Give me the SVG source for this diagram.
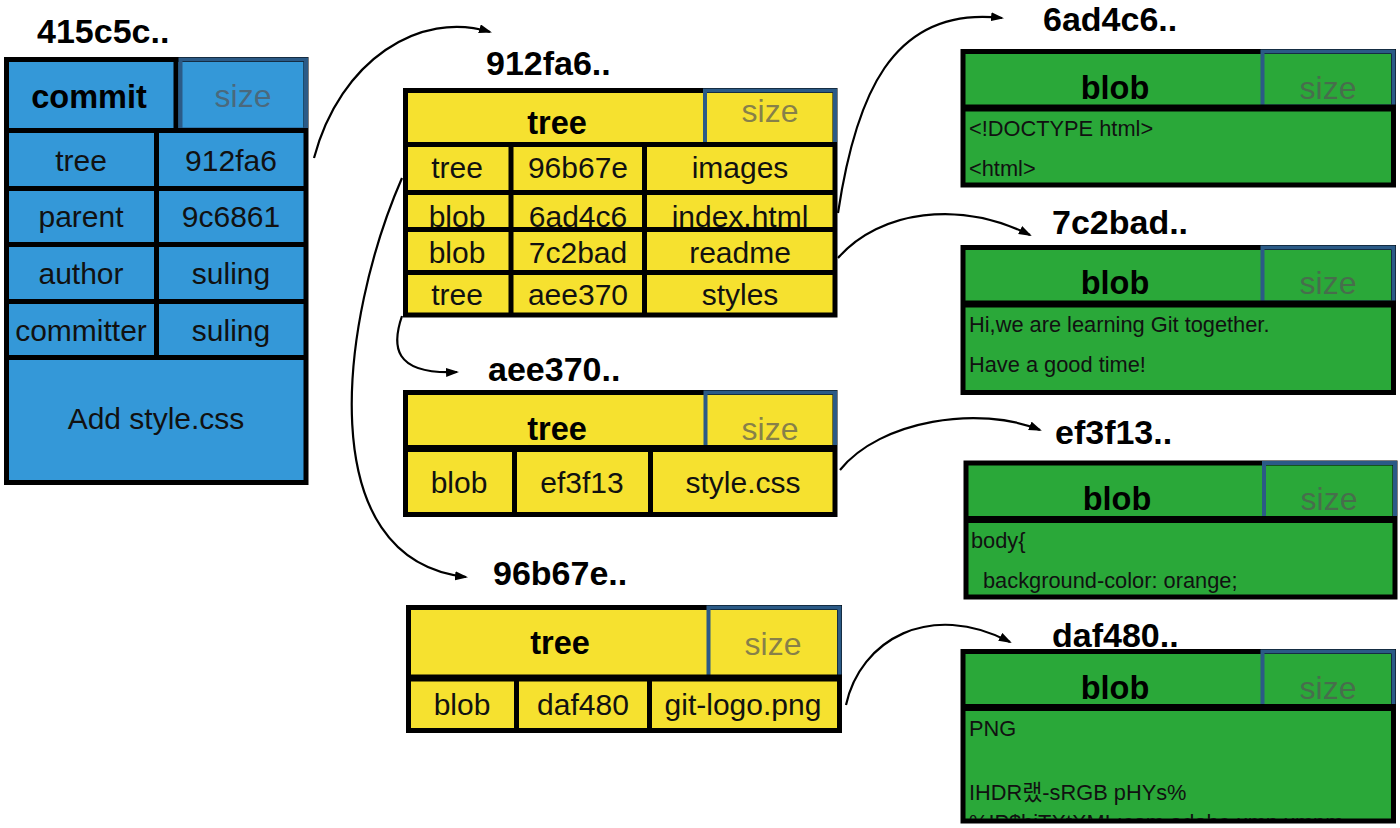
<svg xmlns="http://www.w3.org/2000/svg" width="1400" height="828" viewBox="0 0 1400 828">
<style>
text{font-family:"Liberation Sans",Arial,"Noto Sans CJK KR",sans-serif;fill:#111}
.title{font-weight:bold;font-size:34px;fill:#000}
.hdr{font-weight:bold;font-size:32.5px;text-anchor:middle;fill:#000}
.size{font-size:32px;text-anchor:middle;fill:#555;fill-opacity:.7}
.cell{font-size:30px;text-anchor:middle}
.content{font-size:21.8px}
.box{stroke:#000;stroke-width:5}
.blue{fill:#3498d8}
.yel{fill:#f6e12f}
.grn{fill:#2aa839}
.szb{fill:none;stroke:#2b5a86;stroke-width:4}
.sep{stroke:#000;stroke-width:5}
.hsep{stroke:#000;stroke-width:7}
.arrow{fill:none;stroke:#000;stroke-width:2.2}
</style>
<defs>
<marker id="ah" markerWidth="14" markerHeight="10" refX="11" refY="4.5" orient="auto" markerUnits="userSpaceOnUse">
<path d="M0,0 L13,4.5 L0,9 z" fill="#000"/>
</marker>
<clipPath id="clipDaf"><rect x="965" y="710" width="427" height="109"/></clipPath>
</defs>

<g id="commit-415c5c">
<text class="title" x="37" y="43">415c5c..</text>
<rect class="box blue" x="6.5" y="59.5" width="299.5" height="423"/>
<line class="sep" x1="176" y1="57" x2="176" y2="130"/>
<rect class="szb" x="180.5" y="59.5" width="125.5" height="70"/>
<line class="sep" x1="4" y1="130.5" x2="308" y2="130.5"/>
<line class="sep" x1="4" y1="188.5" x2="308" y2="188.5"/>
<line class="sep" x1="4" y1="244.5" x2="308" y2="244.5"/>
<line class="sep" x1="4" y1="301.5" x2="308" y2="301.5"/>
<line class="sep" x1="4" y1="357.5" x2="308" y2="357.5"/>
<line class="sep" x1="156.5" y1="130" x2="156.5" y2="358"/>
<text class="hdr" x="89" y="108">commit</text>
<text class="size" x="243" y="107">size</text>
<text class="cell" x="81" y="171">tree</text>
<text class="cell" x="231" y="171">912fa6</text>
<text class="cell" x="81" y="227">parent</text>
<text class="cell" x="231" y="227">9c6861</text>
<text class="cell" x="81" y="284">author</text>
<text class="cell" x="231" y="284">suling</text>
<text class="cell" x="81" y="341">committer</text>
<text class="cell" x="231" y="341">suling</text>
<text class="cell" x="156" y="429">Add style.css</text>
</g>

<g id="tree-912fa6">
<text class="title" x="486" y="75">912fa6..</text>
<rect class="box yel" x="405.5" y="90.5" width="429.5" height="224.5"/>
<rect class="szb" x="705" y="90.5" width="130" height="54"/>
<line class="sep" x1="403" y1="144.5" x2="837" y2="144.5"/>
<line class="sep" x1="403" y1="192.5" x2="837" y2="192.5"/>
<line class="sep" x1="403" y1="229.5" x2="837" y2="229.5"/>
<line class="sep" x1="403" y1="272.5" x2="837" y2="272.5"/>
<line class="sep" x1="511" y1="144" x2="511" y2="315"/>
<line class="sep" x1="644.5" y1="144" x2="644.5" y2="315"/>
<text class="hdr" x="557" y="134">tree</text>
<text class="size" x="770" y="122">size</text>
<text class="cell" x="457" y="178">tree</text>
<text class="cell" x="578" y="178">96b67e</text>
<text class="cell" x="740" y="178">images</text>
<text class="cell" x="457" y="227">blob</text>
<text class="cell" x="578" y="227">6ad4c6</text>
<text class="cell" x="740" y="227">index.html</text>
<text class="cell" x="457" y="263">blob</text>
<text class="cell" x="578" y="263">7c2bad</text>
<text class="cell" x="740" y="263">readme</text>
<text class="cell" x="457" y="305">tree</text>
<text class="cell" x="578" y="305">aee370</text>
<text class="cell" x="740" y="305">styles</text>
</g>

<g id="tree-aee370">
<text class="title" x="488" y="381">aee370..</text>
<rect class="box yel" x="405.5" y="392.5" width="429.5" height="122"/>
<rect class="szb" x="705.5" y="392.5" width="129.5" height="55"/>
<line class="hsep" x1="403" y1="448.5" x2="837" y2="448.5"/>
<line class="sep" x1="514.5" y1="448" x2="514.5" y2="515"/>
<line class="sep" x1="650.5" y1="448" x2="650.5" y2="515"/>
<text class="hdr" x="557" y="440">tree</text>
<text class="size" x="770" y="440">size</text>
<text class="cell" x="459" y="493">blob</text>
<text class="cell" x="582" y="493">ef3f13</text>
<text class="cell" x="743" y="493">style.css</text>
</g>

<g id="tree-96b67e">
<text class="title" x="493" y="585">96b67e..</text>
<rect class="box yel" x="408.5" y="607.5" width="431" height="123"/>
<rect class="szb" x="708.5" y="607.5" width="131" height="70"/>
<line class="hsep" x1="406" y1="678" x2="842" y2="678"/>
<line class="sep" x1="516.5" y1="678" x2="516.5" y2="731"/>
<line class="sep" x1="649.5" y1="678" x2="649.5" y2="731"/>
<text class="hdr" x="560" y="654">tree</text>
<text class="size" x="773" y="655">size</text>
<text class="cell" x="462" y="715">blob</text>
<text class="cell" x="583" y="715">daf480</text>
<text class="cell" x="743" y="715">git-logo.png</text>
</g>

<g id="blob-6ad4c6">
<text class="title" x="1043" y="31">6ad4c6..</text>
<rect class="box grn" x="963" y="51.5" width="430.5" height="133.5"/>
<rect class="szb" x="1262.5" y="51.5" width="131" height="55"/>
<line class="hsep" x1="961" y1="108" x2="1396" y2="108"/>
<text class="hdr" x="1115" y="99">blob</text>
<text class="size" x="1328" y="99">size</text>
<text class="content" x="969" y="136">&lt;!DOCTYPE html&gt;</text>
<text class="content" x="969" y="176">&lt;html&gt;</text>
</g>

<g id="blob-7c2bad">
<text class="title" x="1052" y="234">7c2bad..</text>
<rect class="box grn" x="963" y="247.5" width="430.5" height="145"/>
<rect class="szb" x="1262.5" y="247.5" width="131" height="55"/>
<line class="hsep" x1="961" y1="304" x2="1396" y2="304"/>
<text class="hdr" x="1115" y="294">blob</text>
<text class="size" x="1328" y="294">size</text>
<text class="content" x="969" y="332">Hi,we are learning Git together.</text>
<text class="content" x="969" y="372">Have a good time!</text>
</g>

<g id="blob-ef3f13">
<text class="title" x="1055" y="444">ef3f13..</text>
<rect class="box grn" x="966" y="463" width="429" height="134"/>
<rect class="szb" x="1264" y="463" width="131" height="55"/>
<line class="hsep" x1="964" y1="519.5" x2="1397" y2="519.5"/>
<text class="hdr" x="1117" y="510">blob</text>
<text class="size" x="1329" y="510">size</text>
<text class="content" x="971" y="548">body{</text>
<text class="content" x="983" y="588">background-color: orange;</text>
</g>

<g id="blob-daf480">
<rect class="box grn" x="963" y="651.5" width="430.5" height="169.5"/>
<text class="title" x="1052" y="647">daf480..</text>
<rect class="szb" x="1262.5" y="651.5" width="131" height="55"/>
<line class="hsep" x1="961" y1="707.5" x2="1396" y2="707.5"/>
<text class="hdr" x="1115" y="699">blob</text>
<text class="size" x="1328" y="699">size</text>
<text class="content" x="969" y="736">PNG</text>
<text class="content" x="969" y="800">IHDR랬-sRGB pHYs%</text>
<text class="content" x="969" y="830" clip-path="url(#clipDaf)">%IP$biTXtXML:com.adobe.xmp     xmpm</text>
</g>

<g id="connectors">
<path class="arrow" d="M314,158 C340,60 420,10 490,32" marker-end="url(#ah)"/>
<path class="arrow" d="M402,178 C340,320 310,560 466,577" marker-end="url(#ah)"/>
<path class="arrow" d="M402,316 C392,345 392,375 457,372" marker-end="url(#ah)"/>
<path class="arrow" d="M838,213 C855,100 890,5 1002,18" marker-end="url(#ah)"/>
<path class="arrow" d="M838,258 C880,210 960,200 1030,235" marker-end="url(#ah)"/>
<path class="arrow" d="M840,470 C880,420 980,405 1040,430" marker-end="url(#ah)"/>
<path class="arrow" d="M846,705 C860,640 930,600 1010,642" marker-end="url(#ah)"/>
</g>
</svg>
